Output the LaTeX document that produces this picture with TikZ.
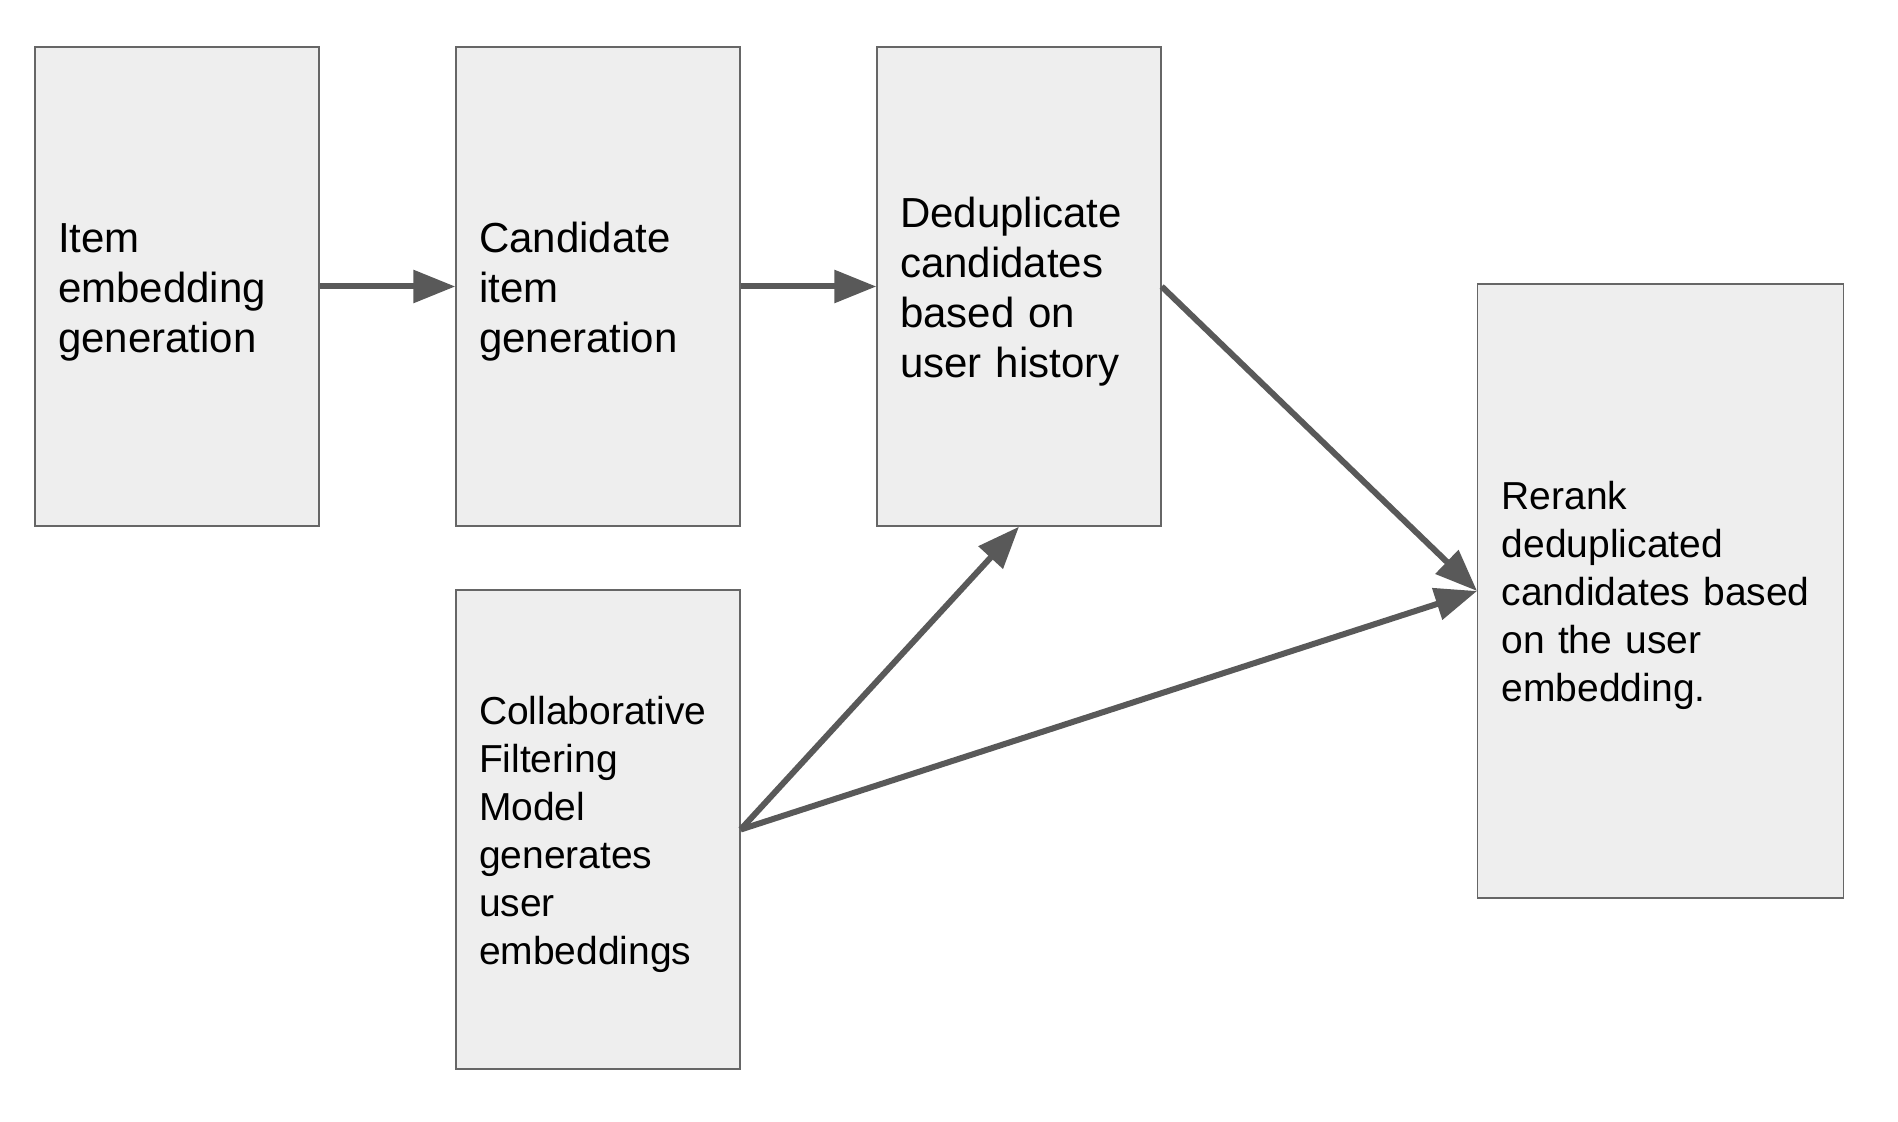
\documentclass[tikz,border=0pt]{standalone}
\usepackage{fontspec}
\setmainfont{Liberation Sans}
\usetikzlibrary{arrows.meta}
\usetikzlibrary{positioning}

\definecolor{boxfill}{HTML}{EEEEEE}
\definecolor{boxline}{HTML}{666666}
\definecolor{flow}{HTML}{595959}

\begin{document}
\begin{tikzpicture}[x=0.5pt, y=-0.5pt]
\tikzstyle{stage} = [draw=boxline, fill=boxfill, line width=0.7pt, align=left, inner xsep=11.5pt, inner ysep=0pt, minimum width=142pt, minimum height=239.5pt, text width=119pt, font=\fontsize{21}{25}\selectfont, execute at begin node={\rule{0pt}{0.97em}}]
\tikzstyle{small} = [font=\fontsize{19.5}{24}\selectfont]
\tikzstyle{link} = [draw=flow, line width=3pt, -{Triangle[length=21pt, width=16pt]}]

\useasboundingbox (0,0) rectangle (1898,1122);

\node[stage] (embed) at (177, 286.5) {Item\\ embedding\\ generation};
\node[stage] (cand) at (598, 286.5) {Candidate\\ item\\ generation};
\node[stage] (dedup) at (1019, 286.5) {Deduplicate\\ candidates\\ based on\\ user history};
\node[stage, small] (cf) at (598, 829.5) {Collaborative\\ Filtering\\ Model\\ generates\\ user\\ embeddings};
\node[stage, small, inner xsep=12pt, minimum width=182.75pt, minimum height=307pt, text width=158.75pt] (rerank) at (1660.5, 591) {Rerank\\ deduplicated\\ candidates based\\ on the user\\ embedding.};

\draw[link] (embed.east) -- (cand.west);
\draw[link] (cand.east) -- (dedup.west);
\draw[link] (dedup.east) -- (rerank.west);
\draw[link] (cf.east) -- (dedup.south);
\draw[link] (cf.east) -- (rerank.west);

\end{tikzpicture}
\end{document}
